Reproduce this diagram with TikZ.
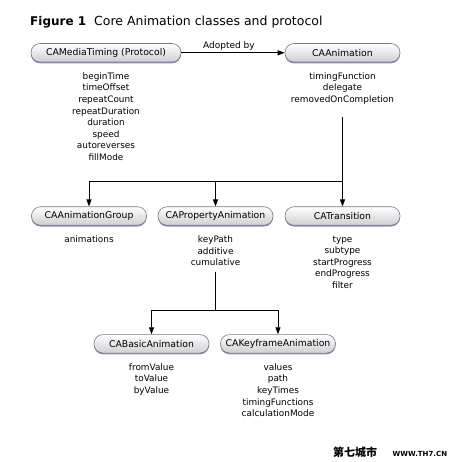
\documentclass[tikz,border=0pt]{standalone}
\usepackage{fontspec}
\setmainfont{DejaVu Sans}
\newfontfamily\cjk{Noto Sans CJK SC}
\usetikzlibrary{arrows.meta,positioning,shadows}
\definecolor{clsline}{HTML}{7A7A7A}
\definecolor{clsshade}{HTML}{CFCFD4}
\definecolor{clsshadow}{HTML}{8A8AC0}

\begin{document}
\begin{tikzpicture}[x=1pt,y=-1pt,
    cls/.style={draw=clsline,line width=0.6pt,rounded corners=9pt,
      top color=white,bottom color=clsshade,
      minimum width=115pt,minimum height=18.5pt,inner sep=0pt,
      font=\fontsize{9.3}{11}\selectfont,
      drop shadow={shadow xshift=0pt,shadow yshift=-1.3pt,fill=clsshadow,opacity=1}},
    attr/.style={align=center,inner sep=0pt,font=\fontsize{8.9}{11.6}\selectfont},
    link/.style={line width=0.9pt},
    arr/.style={-{Triangle[length=7pt,width=5pt]}}]
  \useasboundingbox (0,0) rectangle (448,462);

  % title
  \node[anchor=base west,inner sep=0pt,font=\fontsize{12}{14}\selectfont\bfseries] (fig) at (30,26) {Figure 1};
  \node[anchor=base west,inner sep=0pt,font=\fontsize{12.5}{14}\selectfont] (title) at (94,26) {Core Animation classes and protocol};

  % classes
  \node[cls,minimum width=150pt] (timing) at (106,52.8) {CAMediaTiming (Protocol)};
  \node[cls] (anim) at (342.5,52.8) {CAAnimation};
  \node[cls] (group) at (89,216) {CAAnimationGroup};
  \node[cls] (prop) at (215.5,216) {CAPropertyAnimation};
  \node[cls] (trans) at (342.5,216) {CATransition};
  \node[cls] (basic) at (151.5,343.8) {CABasicAnimation};
  \node[cls] (keyframe) at (278,343.8) {CAKeyframeAnimation};

  % properties
  \node[attr,below=10pt of timing] (timingattr) {beginTime\\timeOffset\\repeatCount\\repeatDuration\\duration\\speed\\autoreverses\\fillMode};
  \node[attr,below=10pt of anim] (animattr) {timingFunction\\delegate\\removedOnCompletion};
  \node[attr,below=10pt of group] (groupattr) {animations};
  \node[attr,below=10pt of prop] (propattr) {keyPath\\additive\\cumulative};
  \node[attr,below=10pt of trans] (transattr) {type\\subtype\\startProgress\\endProgress\\filter};
  \node[attr,below=10pt of basic] (basicattr) {fromValue\\toValue\\byValue};
  \node[attr,below=10pt of keyframe] (keyframeattr) {values\\path\\keyTimes\\timingFunctions\\calculationMode};

  % connectors
  \draw[link,arr] (timing) -- node[above=1.5pt,inner sep=0pt,font=\fontsize{9}{11}\selectfont,pos=0.46] (adopted) {Adopted by} (anim);

  \coordinate (animout) at (anim |- 0,117);
  \coordinate (fork1) at (anim |- 0,181.7);
  \draw[link] (animout) -- (fork1);
  \draw[link,arr] (fork1) -- (trans);
  \draw[link,arr] (fork1) -| (group);
  \draw[link,arr] (prop |- fork1) -- (prop);

  \coordinate (propout) at (prop |- 0,271.7);
  \coordinate (fork2) at (prop |- 0,310);
  \draw[link] (propout) -- (fork2);
  \draw[link,arr] (fork2) -| (basic);
  \draw[link,arr] (fork2) -| (keyframe);

  % watermark
  \node[anchor=west,inner sep=0pt,font=\cjk\bfseries\fontsize{11}{12}\selectfont] (mark) at (333,452) {第七城市};
  \node[anchor=base west,inner sep=0pt,font=\bfseries\fontsize{7}{8}\selectfont] (markurl) at (392.5,456.7) {WWW.TH7.CN};
\end{tikzpicture}
\end{document}
